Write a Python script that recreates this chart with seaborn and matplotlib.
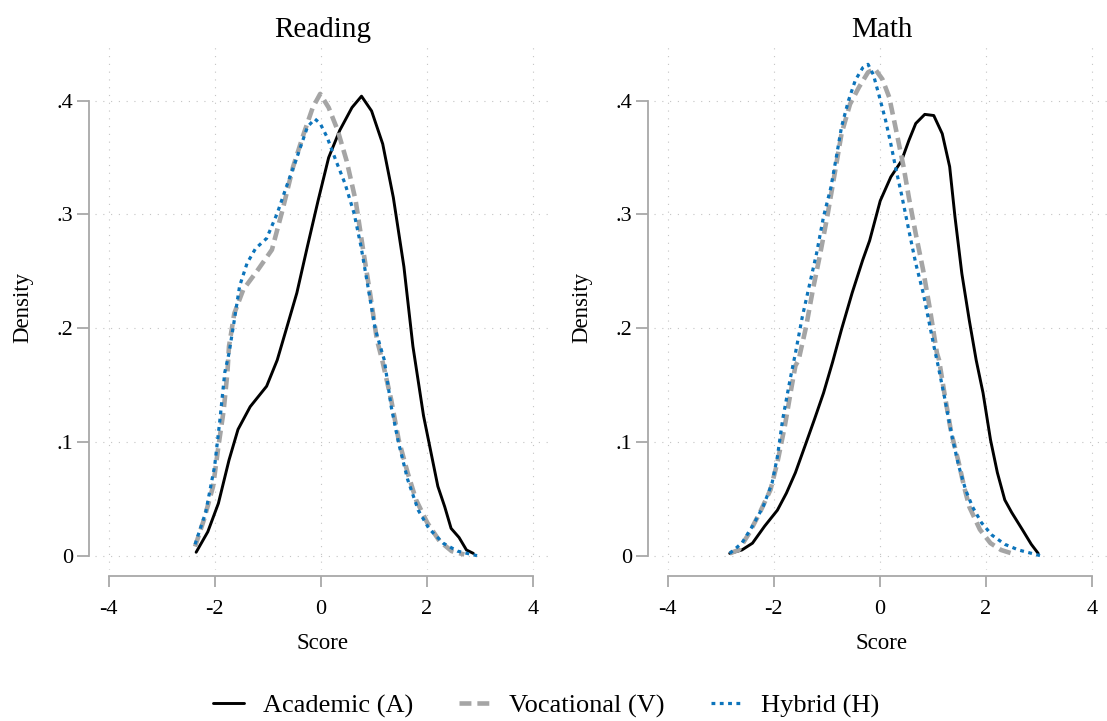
import matplotlib
matplotlib.use("Agg")
import matplotlib.pyplot as plt
import seaborn as sns
import pandas as pd

# ---------------- data ----------------
groups = ["Academic (A)", "Vocational (V)", "Hybrid (H)"]
panels = ["Reading", "Math"]

reading_academic_x = [-2.35, -2.13, -1.93, -1.73, -1.56, -1.33, -1.02, -0.82, -0.65, -0.45, -0.25, -0.05,
                      0.15, 0.36, 0.59, 0.77, 0.96, 1.17, 1.37, 1.57, 1.74, 1.94, 2.11, 2.21, 2.34, 2.46,
                      2.61, 2.75, 2.88]
reading_academic_y = [0.003, 0.021, 0.046, 0.084, 0.111, 0.131, 0.149, 0.172, 0.199, 0.231, 0.272, 0.312,
                      0.350, 0.374, 0.394, 0.404, 0.391, 0.362, 0.315, 0.254, 0.184, 0.123, 0.084, 0.061,
                      0.043, 0.024, 0.016, 0.005, 0.002]

reading_vocational_x = [-2.37, -2.20, -2.03, -1.93, -1.83, -1.76, -1.73, -1.63, -1.46, -1.19, -0.92, -0.72,
                        -0.52, -0.32, -0.15, -0.01, 0.15, 0.32, 0.49, 0.66, 0.79, 0.93, 1.06, 1.16, 1.33,
                        1.47, 1.64, 1.80, 2.01, 2.24, 2.47, 2.71]
reading_vocational_y = [0.008, 0.032, 0.061, 0.096, 0.128, 0.161, 0.184, 0.213, 0.234, 0.251, 0.269, 0.304,
                        0.342, 0.371, 0.394, 0.406, 0.394, 0.374, 0.347, 0.312, 0.272, 0.231, 0.190, 0.172,
                        0.137, 0.102, 0.073, 0.049, 0.029, 0.013, 0.004, 0.001]

reading_hybrid_x = [-2.37, -2.17, -2.00, -1.90, -1.81, -1.73, -1.63, -1.53, -1.39, -1.23, -1.02, -0.82,
                    -0.65, -0.45, -0.25, -0.11, -0.01, 0.12, 0.29, 0.46, 0.63, 0.76, 0.89, 1.03, 1.20,
                    1.33, 1.47, 1.64, 1.84, 2.04, 2.31, 2.58, 2.95]
reading_hybrid_y = [0.010, 0.038, 0.079, 0.120, 0.161, 0.178, 0.207, 0.237, 0.257, 0.270, 0.279, 0.301,
                    0.324, 0.350, 0.377, 0.384, 0.380, 0.368, 0.347, 0.327, 0.301, 0.272, 0.237, 0.199,
                    0.172, 0.131, 0.099, 0.067, 0.040, 0.024, 0.011, 0.004, 0.000]

math_academic_x = [-2.83, -2.60, -2.40, -2.17, -1.93, -1.76, -1.59, -1.39, -1.23, -1.06, -0.89, -0.72,
                   -0.52, -0.32, -0.19, 0.01, 0.21, 0.41, 0.55, 0.68, 0.85, 1.02, 1.18, 1.32, 1.42, 1.55,
                   1.69, 1.82, 1.95, 2.09, 2.22, 2.36, 2.49, 2.69, 2.86, 2.99]
math_academic_y = [0.002, 0.005, 0.011, 0.026, 0.040, 0.055, 0.073, 0.099, 0.120, 0.143, 0.170, 0.199,
                   0.231, 0.260, 0.277, 0.312, 0.333, 0.347, 0.365, 0.380, 0.388, 0.387, 0.371, 0.342,
                   0.298, 0.248, 0.207, 0.172, 0.143, 0.102, 0.073, 0.049, 0.038, 0.023, 0.010, 0.002]

math_vocational_x = [-2.83, -2.66, -2.46, -2.26, -2.06, -1.93, -1.79, -1.66, -1.59, -1.53, -1.39, -1.26,
                     -1.12, -0.99, -0.86, -0.72, -0.56, -0.39, -0.22, -0.09, 0.05, 0.18, 0.31, 0.45, 0.55,
                     0.68, 0.82, 0.95, 1.08, 1.12, 1.22, 1.35, 1.49, 1.59, 1.69, 1.89, 2.09, 2.29, 2.56]
math_vocational_y = [0.002, 0.005, 0.020, 0.038, 0.058, 0.082, 0.114, 0.149, 0.167, 0.172, 0.201, 0.234,
                     0.266, 0.298, 0.333, 0.371, 0.397, 0.412, 0.425, 0.428, 0.419, 0.403, 0.374, 0.342,
                     0.315, 0.283, 0.251, 0.216, 0.178, 0.172, 0.143, 0.108, 0.082, 0.061, 0.043, 0.023,
                     0.011, 0.005, 0.001]

math_hybrid_x = [-2.83, -2.60, -2.40, -2.20, -2.03, -1.93, -1.83, -1.69, -1.59, -1.46, -1.33, -1.19, -1.06,
                 -0.92, -0.82, -0.72, -0.59, -0.46, -0.32, -0.22, -0.12, -0.02, 0.11, 0.21, 0.31, 0.41,
                 0.55, 0.68, 0.82, 0.92, 1.05, 1.08, 1.22, 1.35, 1.49, 1.62, 1.75, 1.92, 2.12, 2.36,
                 2.62, 3.03]
math_hybrid_y = [0.002, 0.011, 0.026, 0.043, 0.064, 0.087, 0.120, 0.155, 0.178, 0.210, 0.237, 0.266, 0.298,
                 0.324, 0.350, 0.377, 0.400, 0.418, 0.429, 0.432, 0.423, 0.406, 0.383, 0.362, 0.339, 0.318,
                 0.286, 0.257, 0.231, 0.208, 0.178, 0.172, 0.140, 0.108, 0.079, 0.058, 0.043, 0.029,
                 0.018, 0.010, 0.005, 0.000]

x_ticks = [-4, -2, 0, 2, 4]
x_tick_labels = ["-4", "-2", "0", "2", "4"]
y_ticks = [0, 0.1, 0.2, 0.3, 0.4]
y_tick_labels = ["0", ".1", ".2", ".3", ".4"]

series = {
    ("Reading", "Academic (A)"): (reading_academic_x, reading_academic_y),
    ("Reading", "Vocational (V)"): (reading_vocational_x, reading_vocational_y),
    ("Reading", "Hybrid (H)"): (reading_hybrid_x, reading_hybrid_y),
    ("Math", "Academic (A)"): (math_academic_x, math_academic_y),
    ("Math", "Vocational (V)"): (math_vocational_x, math_vocational_y),
    ("Math", "Hybrid (H)"): (math_hybrid_x, math_hybrid_y),
}
rows = []
for (p, g), (xs, ys) in series.items():
    for i, (xv, yv) in enumerate(zip(xs, ys)):
        rows.append({"panel": p, "group": g, "order": i, "Score": xv, "Density": yv})
df = pd.DataFrame(rows)

# ---------------- styling ----------------
sns.set_theme(style="white")
plt.rcParams["font.family"] = ["Liberation Serif", "DejaVu Serif"]
plt.rcParams["text.color"] = "black"
plt.rcParams["axes.labelcolor"] = "black"
plt.rcParams["axes.titlecolor"] = "black"

AXCOL = "#a8a8a8"
GRIDCOL = "#c4c4c4"
styles = {
    "Academic (A)": dict(color="black", linewidth=2.1, linestyle="-"),
    "Vocational (V)": dict(color="#a5a5a5", linewidth=3.3, linestyle=(0, (2.6, 1.3))),
    "Hybrid (H)": dict(color="#0c74bb", linewidth=2.3, linestyle=(0, (1.2, 1.4))),
}

W, H = 1107, 721
fig = plt.figure(figsize=(W / 100, H / 100), dpi=100)
ax_rects = [
    (95 / W, (H - 570) / H, 455 / W, 525 / H),
    (654 / W, (H - 570) / H, 455 / W, 525 / H),
]

axes = []
for panel, rect in zip(panels, ax_rects):
    ax = fig.add_axes(rect)
    axes.append(ax)
    sub = df[df["panel"] == panel]
    for g in groups:
        d = sub[sub["group"] == g].sort_values("order")
        st = styles[g]
        sns.lineplot(data=d, x="Score", y="Density", ax=ax, sort=False, estimator=None,
                     color=st["color"], linewidth=st["linewidth"], label=g, legend=False)
        ln = ax.lines[-1]
        ln.set_linestyle(st["linestyle"])
        ln.set_dash_capstyle("butt")
        ln.set_solid_capstyle("round")
        ln.set_solid_joinstyle("round")
        ln.set_dash_joinstyle("round")
    ax.set_xlim(-4.258, 4.326)
    ax.set_ylim(-0.0126, 0.449)
    ax.set_xticks(x_ticks)
    ax.set_xticklabels(x_tick_labels)
    ax.set_yticks(y_ticks)
    ax.set_yticklabels(y_tick_labels)
    ax.grid(True, color=GRIDCOL, linewidth=0.8, linestyle=(0, (1, 6)))
    ax.set_axisbelow(True)
    for s in ["top", "right"]:
        ax.spines[s].set_visible(False)
    for s in ["left", "bottom"]:
        ax.spines[s].set_color(AXCOL)
        ax.spines[s].set_linewidth(1.3)
        ax.spines[s].set_position(("outward", 4.3))
    ax.spines["left"].set_bounds(0, 0.4)
    ax.spines["bottom"].set_bounds(-4, 4)
    ax.tick_params(axis="y", direction="out", length=8.6, width=1.3, color=AXCOL,
                   labelcolor="black", labelsize=16, pad=3, left=True)
    ax.tick_params(axis="x", direction="out", length=8, width=1.3, color=AXCOL,
                   labelcolor="black", labelsize=16, pad=9, bottom=True)
    ax.set_xlabel("Score", fontsize=16.5)
    ax.set_ylabel("Density", fontsize=16.5)
    ax.xaxis.set_label_coords(0.5, -0.12)
    ax.yaxis.label.set_va("center")
    ax.yaxis.set_label_coords(-0.158, 0.5)
    ax.set_title(panel, fontsize=21, pad=6)

handles, labels = axes[0].get_legend_handles_labels()
fig.legend(handles, labels, loc="center", bbox_to_anchor=(546 / W, (H - 706) / H), ncol=3,
           frameon=False, fontsize=19, handlelength=1.17, handletextpad=0.72, columnspacing=1.75)

fig.savefig("out.png", dpi=100)
